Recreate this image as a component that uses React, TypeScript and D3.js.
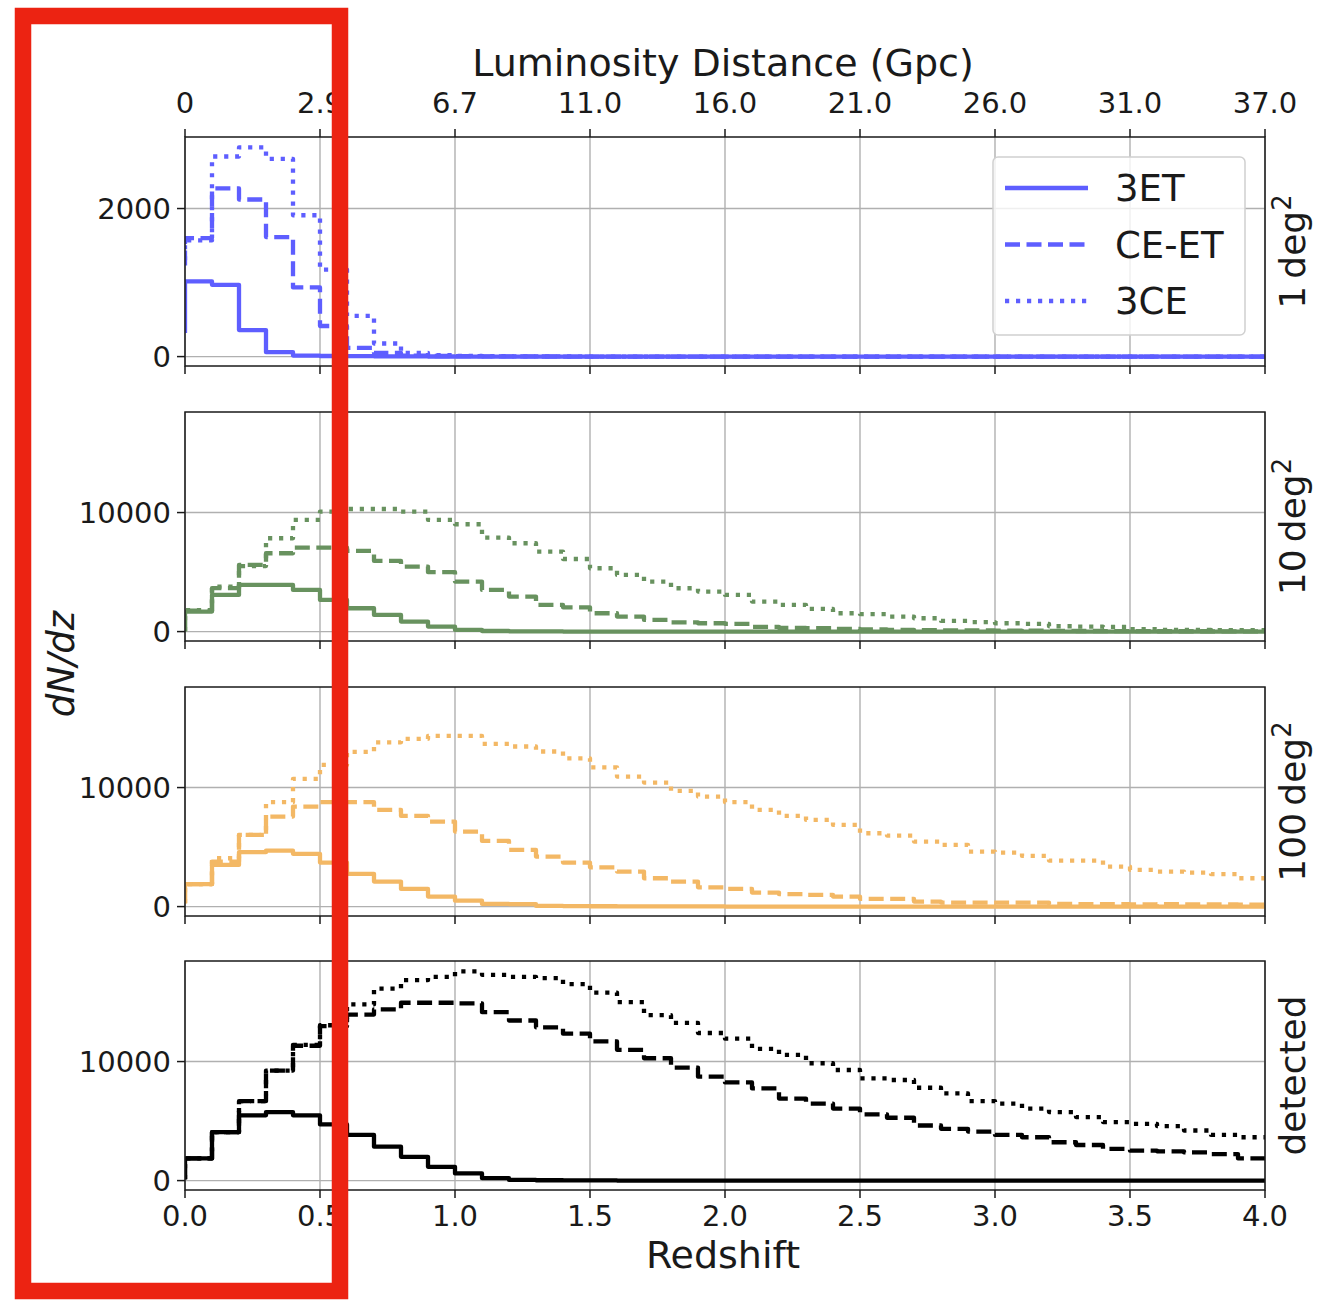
import React from 'react';
import * as d3 from 'd3';

// bin edges in redshift (bin width 0.1), first value of each series is the value at z=0 edge
const zEdges: number[] = d3.range(41).map((i) => i / 10);

const xTickValues = [0, 0.5, 1.0, 1.5, 2.0, 2.5, 3.0, 3.5, 4.0];
const xTickLabels = ['0.0', '0.5', '1.0', '1.5', '2.0', '2.5', '3.0', '3.5', '4.0'];
const dlTickLabels = ['0', '2.9', '6.7', '11.0', '16.0', '21.0', '26.0', '31.0', '37.0'];

const seriesNames = ['3ET', 'CE-ET', '3CE'];
const panelLabels = ['1', '10', '100', 'detected'];
const panelColors = ['#5e5eff', '#68925f', '#f3b865', '#000000'];

// 1 deg^2
const b3ET = [320, 1016, 970, 358, 59, 14, 8, 5, 3, 2, 1, 0, 0, 0, 0, 0, 0, 0, 0, 0, 0, 0, 0, 0, 0, 0, 0, 0, 0, 0, 0, 0, 0, 0, 0, 0, 0, 0, 0, 0, 0];
const bCEET = [1230, 1601, 2272, 2122, 1615, 934, 413, 118, 50, 14, 8, 5, 3, 2, 1, 0, 0, 0, 0, 0, 0, 0, 0, 0, 0, 0, 0, 0, 0, 0, 0, 0, 0, 0, 0, 0, 0, 0, 0, 0, 0];
const b3CE = [1300, 1569, 2703, 2825, 2671, 1909, 1175, 549, 177, 50, 20, 10, 5, 3, 2, 1, 0, 0, 0, 0, 0, 0, 0, 0, 0, 0, 0, 0, 0, 0, 0, 0, 0, 0, 0, 0, 0, 0, 0, 0, 0];

// 10 deg^2
const g3ET = [30, 1680, 3080, 3920, 3920, 3500, 2660, 1960, 1400, 840, 420, 140, 50, 20, 10, 5, 3, 2, 1, 0, 0, 0, 0, 0, 0, 0, 0, 0, 0, 0, 0, 0, 0, 0, 0, 0, 0, 0, 0, 0, 0];
const gCEET = [30, 1750, 3650, 5600, 6580, 7060, 7060, 6780, 5940, 5460, 4990, 4200, 3500, 2940, 2240, 2040, 1540, 1260, 980, 780, 700, 640, 400, 300, 280, 220, 180, 150, 130, 110, 90, 80, 70, 60, 50, 40, 40, 30, 30, 20, 20];
const g3CE = [30, 1800, 3780, 5500, 7840, 9380, 10080, 10300, 10300, 10080, 9380, 9020, 7900, 7420, 6720, 6100, 5320, 4760, 4200, 3640, 3360, 3080, 2520, 2240, 1900, 1540, 1460, 1260, 1120, 900, 800, 700, 650, 450, 420, 400, 200, 150, 140, 130, 120];

// 100 deg^2
const o3ET = [280, 1880, 3500, 4570, 4700, 4430, 3700, 2750, 2100, 1480, 840, 500, 220, 200, 60, 40, 30, 20, 15, 10, 10, 5, 5, 5, 3, 3, 2, 2, 1, 1, 1, 0, 0, 0, 0, 0, 0, 0, 0, 0, 0];
const oCEET = [280, 1880, 3780, 6020, 7560, 8400, 8770, 8770, 8120, 7620, 7140, 6300, 5520, 4760, 4200, 3700, 3300, 2940, 2380, 2100, 1620, 1480, 1180, 1040, 980, 840, 640, 640, 420, 340, 340, 340, 340, 220, 200, 210, 190, 200, 180, 190, 170];
const o3CE = [280, 1880, 4060, 6020, 8770, 10730, 11900, 13000, 13800, 14090, 14340, 14340, 13670, 13450, 13030, 12460, 11700, 10920, 10420, 9720, 9240, 8770, 8120, 7620, 7280, 6860, 6160, 5970, 5460, 5180, 4620, 4540, 4260, 3870, 3870, 3360, 3080, 2940, 2860, 2720, 2380];

// detected
const k3ET = [120, 1860, 4070, 5480, 5760, 5480, 4720, 3840, 2850, 2000, 1160, 600, 200, 60, 30, 20, 10, 5, 3, 2, 1, 0, 0, 0, 0, 0, 0, 0, 0, 0, 0, 0, 0, 0, 0, 0, 0, 0, 0, 0, 0];
const kCEET = [120, 1860, 4070, 6670, 9240, 11330, 12970, 13950, 14380, 14940, 14940, 14890, 14150, 13450, 12880, 12340, 11690, 10990, 10280, 9490, 8730, 8250, 7740, 6890, 6470, 6050, 5570, 5280, 4630, 4350, 4120, 3840, 3640, 3220, 2990, 2660, 2510, 2460, 2370, 2230, 1860];
const k3CE = [120, 1860, 4070, 6670, 9240, 11410, 13050, 14800, 16130, 16840, 17120, 17570, 17290, 17120, 17010, 16500, 15800, 15000, 13900, 13250, 12400, 11920, 11070, 10560, 9860, 9290, 8590, 8450, 7800, 7320, 6670, 6470, 6050, 5760, 5340, 4920, 4770, 4580, 4210, 3840, 3640];

const panelSeries = [
  [b3ET, bCEET, b3CE],
  [g3ET, gCEET, g3CE],
  [o3ET, oCEET, o3CE],
  [k3ET, kCEET, k3CE],
];
const panelYTicks = [[0, 2000], [0, 10000], [0, 10000], [0, 10000]];

const dashes = [null, '15 6.5', '4.2 6.8'];

const FONT = 'DejaVu Sans, sans-serif';
const LEFT = 185;
const RIGHT = 1265;
const PANEL_TOPS = [137, 412, 687, 961];
const PANEL_H = 229;
const TICK = 8;
const TICK_FS = 29;
const LABEL_FS = 37;

export default function App() {
  const x = d3.scaleLinear().domain([0, 4]).range([LEFT, RIGHT]);
  const max1 = d3.max(panelSeries[0].flat()) as number;
  const maxRest = d3.max(panelSeries.slice(1).flat(2)) as number;

  return (
    <svg
      width={1317}
      height={1300}
      style={{ position: 'absolute', left: 0, top: 0, background: '#fff' }}
      fontFamily={FONT}
    >
      <rect x={0} y={0} width={1317} height={1300} fill="#ffffff" />
      <defs>
        {PANEL_TOPS.map((t, i) => (
          <clipPath id={`clip${i}`} key={i}>
            <rect x={LEFT} y={t} width={RIGHT - LEFT} height={PANEL_H} />
          </clipPath>
        ))}
      </defs>

      {PANEL_TOPS.map((top, pi) => {
        const M = pi === 0 ? max1 : maxRest;
        const y = d3.scaleLinear().domain([-0.045 * M, 1.05 * M]).range([top + PANEL_H, top]);
        const line = d3
          .line<number>()
          .x((_, i) => x(zEdges[i]))
          .y((d) => y(d))
          .curve(d3.curveStepBefore);
        const bottom = top + PANEL_H;
        return (
          <g key={pi}>
            {/* grid */}
            {xTickValues.map((v) => (
              <line key={'gx' + v} x1={x(v)} x2={x(v)} y1={top} y2={bottom} stroke="#b0b0b0" strokeWidth={1.4} />
            ))}
            {panelYTicks[pi].map((v) => (
              <line key={'gy' + v} x1={LEFT} x2={RIGHT} y1={y(v)} y2={y(v)} stroke="#b0b0b0" strokeWidth={1.4} />
            ))}
            {/* series */}
            <g clipPath={`url(#clip${pi})`}>
              {panelSeries[pi].map((s, si) => (
                <path
                  key={si}
                  d={line(s) || ''}
                  fill="none"
                  stroke={panelColors[pi]}
                  strokeWidth={4.3}
                  strokeDasharray={dashes[si] || undefined}
                  strokeLinejoin="round"
                />
              ))}
            </g>
            {/* frame */}
            <rect x={LEFT} y={top} width={RIGHT - LEFT} height={PANEL_H} fill="none" stroke="#1a1a1a" strokeWidth={1.5} />
            {/* bottom ticks */}
            {xTickValues.map((v) => (
              <line key={'bt' + v} x1={x(v)} x2={x(v)} y1={bottom} y2={bottom + TICK} stroke="#1a1a1a" strokeWidth={1.5} />
            ))}
            {/* y ticks */}
            {panelYTicks[pi].map((v) => (
              <g key={'yt' + v}>
                <line x1={LEFT - TICK} x2={LEFT} y1={y(v)} y2={y(v)} stroke="#1a1a1a" strokeWidth={1.5} />
                <text x={LEFT - TICK - 6} y={y(v)} dy="0.36em" textAnchor="end" fontSize={TICK_FS} fill="#1a1a1a">
                  {String(v)}
                </text>
              </g>
            ))}
            {/* right label */}
            <text
              transform={`translate(1305, ${top + PANEL_H / 2}) rotate(-90)`}
              textAnchor="middle"
              fontSize={LABEL_FS - 1}
              fill="#1a1a1a"
            >
              {panelLabels[pi] === 'detected' ? (
                'detected'
              ) : (
                <>
                  <tspan>{panelLabels[pi] + '\u2009deg'}</tspan>
                  <tspan fontSize={LABEL_FS * 0.7} dy={-14}>2</tspan>
                </>
              )}
            </text>
            {pi === 0 && (
              <g>
                {xTickValues.map((v, i) => (
                  <g key={'tt' + v}>
                    <line x1={x(v)} x2={x(v)} y1={top - TICK} y2={top} stroke="#1a1a1a" strokeWidth={1.5} />
                    <text x={x(v)} y={113} textAnchor="middle" fontSize={TICK_FS} fill="#1a1a1a">
                      {dlTickLabels[i]}
                    </text>
                  </g>
                ))}
                {/* legend */}
                <rect x={993} y={157} width={252} height={178} rx={5} fill="#ffffff" fillOpacity={0.8} stroke="#d0d0d0" strokeWidth={1.5} />
                {seriesNames.map((n, si) => {
                  const ly = 188 + si * 56.5;
                  return (
                    <g key={n}>
                      <line
                        x1={1005}
                        x2={1088}
                        y1={ly}
                        y2={ly}
                        stroke={panelColors[0]}
                        strokeWidth={4.3}
                        strokeDasharray={dashes[si] || undefined}
                      />
                      <text x={1115} y={ly} dy="0.36em" fontSize={LABEL_FS} fill="#1a1a1a">
                        {n}
                      </text>
                    </g>
                  );
                })}
              </g>
            )}
            {pi === 3 &&
              xTickValues.map((v, i) => (
                <text key={'bl' + v} x={x(v)} y={bottom + TICK + 6} dy="0.76em" textAnchor="middle" fontSize={TICK_FS} fill="#1a1a1a">
                  {xTickLabels[i]}
                </text>
              ))}
          </g>
        );
      })}

      {/* axis titles */}
      <text x={723} y={76} textAnchor="middle" fontSize={LABEL_FS + 1} fill="#1a1a1a">
        Luminosity Distance (Gpc)
      </text>
      <text x={723} y={1268} textAnchor="middle" fontSize={LABEL_FS + 1} fill="#1a1a1a">
        Redshift
      </text>
      <text
        transform={`translate(74, 664) rotate(-90)`}
        textAnchor="middle"
        fontSize={LABEL_FS}
        fontStyle="italic"
        fill="#1a1a1a"
      >
        dN/dz
      </text>

      {/* red highlight box */}
      <rect x={23} y={16} width={317} height={1275} fill="none" stroke="#ec2312" strokeWidth={16.5} />
    </svg>
  );
}
